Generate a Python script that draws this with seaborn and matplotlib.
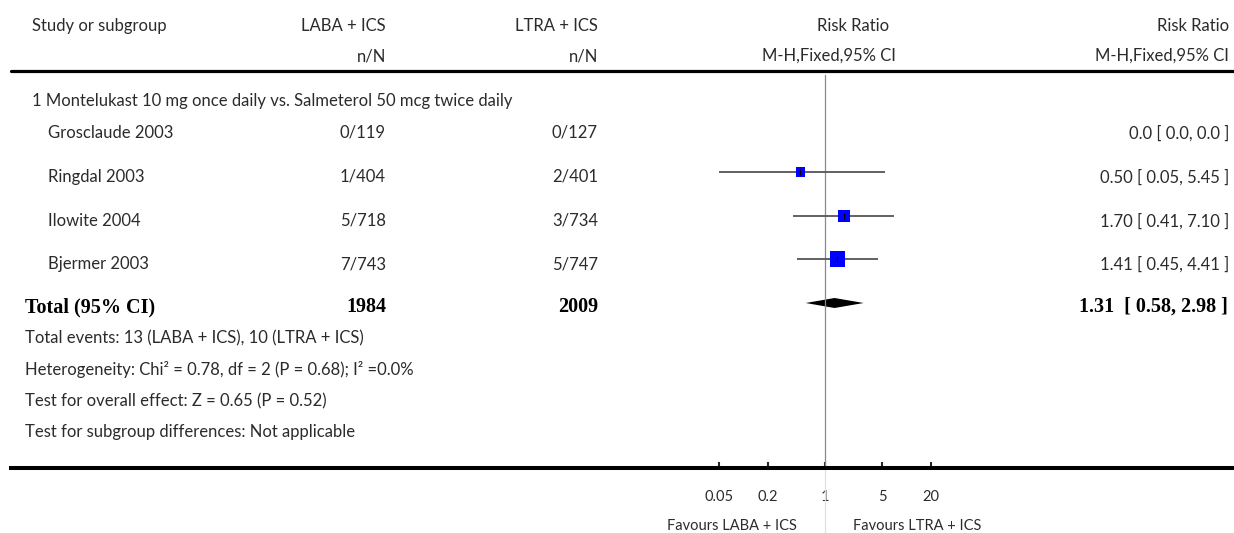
import numpy as np
import pandas as pd
import seaborn as sns
import matplotlib.pyplot as plt

# data
studies = ["Grosclaude 2003", "Ringdal 2003", "Ilowite 2004", "Bjermer 2003"]
laba_events = ["0/119", "1/404", "5/718", "7/743"]
ltra_events = ["0/127", "2/401", "3/734", "5/747"]
rr = [np.nan, 0.50, 1.70, 1.41]
ci_low = [np.nan, 0.05, 0.41, 0.45]
ci_high = [np.nan, 5.45, 7.10, 4.41]
weight = [0.0, 20.2, 29.8, 50.1]
rr_labels = ["0.0 [ 0.0, 0.0 ]", "0.50 [ 0.05, 5.45 ]",
             "1.70 [ 0.41, 7.10 ]", "1.41 [ 0.45, 4.41 ]"]
total_rr = [1.31, 0.58, 2.98]
total_label = "1.31  [ 0.58, 2.98 ]"
total_n = ["1984", "2009"]
subgroup = "1 Montelukast 10 mg once daily vs. Salmeterol 50 mcg twice daily"
footnotes = ["Total events: 13 (LABA + ICS), 10 (LTRA + ICS)",
             "Heterogeneity: Chi\u00b2 = 0.78, df = 2 (P = 0.68); I\u00b2 =0.0%",
             "Test for overall effect: Z = 0.65 (P = 0.52)",
             "Test for subgroup differences: Not applicable"]
ticks = [0.05, 0.2, 1, 5, 20]
tick_labels = ["0.05", "0.2", "1", "5", "20"]
favours = ["Favours LABA + ICS", "Favours LTRA + ICS"]

df = pd.DataFrame({"study": studies, "laba": laba_events, "ltra": ltra_events,
                   "rr": rr, "lo": ci_low, "hi": ci_high, "w": weight,
                   "label": rr_labels})

sns.set_theme(style="white")
plt.rcParams["font.family"] = ["Lato", "DejaVu Sans"]

W, H = 1234, 533
fig = plt.figure(figsize=(W / 100, H / 100), dpi=100)

# layout in pixels
row_y = [133, 177, 221, 264]
mark_shift = -5
total_y = 307
foot_y = [338, 370, 401, 432]
axis_y = 468
x_one = 825          # pixel of RR = 1
px_dec = 81.5        # pixels per decade
left_px = 11
txt_col = "#2b2b2b"
fs = 12

# text layer
ax_t = fig.add_axes([0, 0, 1, 1])
ax_t.set_xlim(0, W)
ax_t.set_ylim(H, 0)
ax_t.axis("off")

# forest panel on log scale
ax = fig.add_axes([left_px / W, (H - axis_y) / H, (W - left_px) / W, axis_y / H])
ax.set_xscale("log")
ax.set_xlim(10 ** ((left_px - x_one) / px_dec), 10 ** ((W - x_one) / px_dec))
ax.set_ylim(axis_y, 0)
ax.patch.set_alpha(0)
for s in ["top", "left", "right"]:
    ax.spines[s].set_visible(False)
ax.spines["bottom"].set_linewidth(2.9)
ax.spines["bottom"].set_color("black")
ax.set_xticks(ticks)
ax.set_xticklabels(tick_labels)
ax.minorticks_off()
ax.set_yticks([])
ax.tick_params(axis="x", direction="in", length=4.5, width=1.5, pad=16,
               labelsize=10.5, labelcolor=txt_col, bottom=True)

# line of no effect
ax.plot([1, 1], [75, axis_y], color="#8a8a8a", lw=0.9)
ax.plot([1, 1], [axis_y, H], color="#e0e0e0", lw=0.9, clip_on=False)

# study estimates
est = df.dropna(subset=["rr"]).copy()
est["y"] = [row_y[i] + mark_shift for i in est.index]
ax.hlines(est["y"], est["lo"], est["hi"], color="#555555", lw=1.3)
sns.scatterplot(data=est, x="rr", y="y", marker="s", color="#0000ff",
                edgecolor="none", s=est["w"] * 2.35, ax=ax, legend=False, zorder=3)
ax.scatter(est["rr"], est["y"], marker="|", s=18, color="black", lw=0.8, zorder=4)
ax.set_xlabel("")
ax.set_ylabel("")

# pooled diamond
ty = total_y - 4
ax.fill([total_rr[1], total_rr[0], total_rr[2], total_rr[0]],
        [ty, ty - 5, ty, ty + 5], color="black", lw=0)

# header
ax_t.plot([left_px, W], [71, 71], color="black", lw=2.3)
ax_t.text(32, 26, "Study or subgroup", fontsize=fs, color=txt_col, va="center")
for x, name in [(386, "LABA + ICS"), (598, "LTRA + ICS")]:
    ax_t.text(x, 26, name, fontsize=fs, color=txt_col, va="center", ha="right")
    ax_t.text(x, 56, "n/N", fontsize=fs, color=txt_col, va="center", ha="right")
ax_t.text(853, 26, "Risk Ratio", fontsize=fs, color=txt_col, va="center", ha="center")
ax_t.text(829, 56, "M-H,Fixed,95% CI", fontsize=fs, color=txt_col, va="center", ha="center")
ax_t.text(1229, 26, "Risk Ratio", fontsize=fs, color=txt_col, va="center", ha="right")
ax_t.text(1229, 56, "M-H,Fixed,95% CI", fontsize=fs, color=txt_col, va="center", ha="right")

# study rows
ax_t.text(32, 101, subgroup, fontsize=fs, color=txt_col, va="center")
for y, r in zip(row_y, df.itertuples()):
    ax_t.text(48, y, r.study, fontsize=fs, color=txt_col, va="center")
    ax_t.text(386, y, r.laba, fontsize=fs, color=txt_col, va="center", ha="right")
    ax_t.text(598, y, r.ltra, fontsize=fs, color=txt_col, va="center", ha="right")
    ax_t.text(1229, y, r.label, fontsize=fs, color=txt_col, va="center", ha="right")

# total row
bold = dict(fontsize=14.5, fontweight="bold", family="Liberation Serif",
            color="black", va="center")
ax_t.text(25, total_y, "Total (95% CI)", **bold)
ax_t.text(386, total_y, total_n[0], ha="right", **bold)
ax_t.text(598, total_y, total_n[1], ha="right", **bold)
ax_t.text(1228, total_y, total_label, ha="right", **bold)

for y, line in zip(foot_y, footnotes):
    ax_t.text(25, y, line, fontsize=fs, color=txt_col, va="center")

ax_t.text(797, 526, favours[0], fontsize=10.5, color=txt_col, va="center", ha="right")
ax_t.text(853, 526, favours[1], fontsize=10.5, color=txt_col, va="center", ha="left")

fig.savefig("out.png", dpi=100)
